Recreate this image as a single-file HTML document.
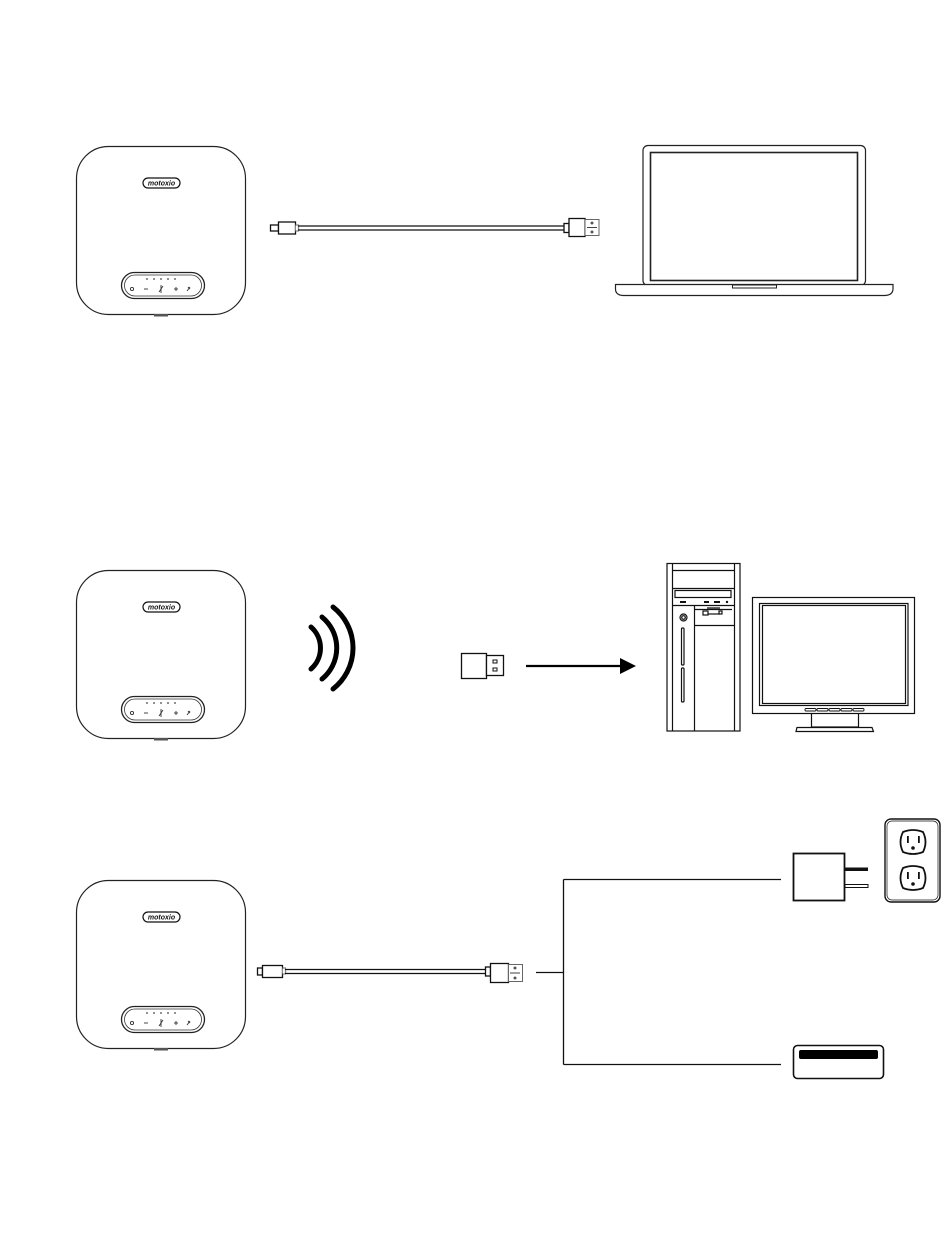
<!DOCTYPE html>
<html><head><meta charset="utf-8"><style>
html,body{margin:0;padding:0;background:#fff;}
svg{display:block;}
</style></head><body>
<svg width="950" height="1238" viewBox="0 0 950 1238" xmlns="http://www.w3.org/2000/svg">
<defs>
<g id="spk">
  <rect x="76.5" y="146.5" width="169" height="168" rx="32" fill="#fff" stroke="#222" stroke-width="1.2"/>
  <rect x="154" y="314" width="14" height="2.5" fill="#555"/>
  <rect x="143" y="178" width="37" height="10" rx="5" fill="#fff" stroke="#111" stroke-width="1.2"/>
  <text x="161.5" y="185.6" font-family="Liberation Sans, sans-serif" font-size="7" font-style="italic" font-weight="bold" text-anchor="middle" fill="#111">motoxio</text>
  <rect x="121.5" y="272.5" width="83" height="26" rx="13" fill="#fff" stroke="#222" stroke-width="1.3"/>
  <rect x="124.5" y="275" width="77" height="21" rx="10.5" fill="none" stroke="#333" stroke-width="0.8"/>
  <g fill="#444"><circle cx="147" cy="279" r="0.9"/><circle cx="154" cy="279" r="0.9"/><circle cx="161" cy="279" r="0.9"/><circle cx="168" cy="279" r="0.9"/><circle cx="175" cy="279" r="0.9"/></g>
  <g stroke="#333" stroke-width="0.9" fill="none">
    <circle cx="132" cy="289" r="1.6"/>
    <line x1="144" y1="289" x2="148" y2="289"/>
    <line x1="161" y1="285" x2="161" y2="293"/><line x1="159" y1="292" x2="163" y2="286"/>
    <line x1="174" y1="289" x2="178" y2="289"/><line x1="176" y1="287" x2="176" y2="291"/>
    <path d="M187 291 l3 -4 M188 287 l2 2"/>
  </g>
</g>
</defs>

<use href="#spk"/>
<use href="#spk" y="424"/>
<use href="#spk" y="734"/>

<!-- cable 1 -->
<g stroke="#111" fill="#fff" stroke-width="1.3">
  <rect x="270.5" y="225" width="8" height="6"/>
  <rect x="278.5" y="222" width="17" height="12"/>
  <path d="M295.5 225 h3 v6 h-3" stroke="#888"/>
  <line x1="298" y1="226" x2="564" y2="226"/>
  <line x1="298" y1="230" x2="564" y2="230"/>
  <rect x="564" y="223.5" width="5" height="9"/>
  <rect x="569" y="218.5" width="16" height="18"/>
  <rect x="585" y="219.5" width="14" height="16" stroke="#666" stroke-width="1"/>
  <circle cx="592" cy="223" r="1" stroke-width="0.8"/><circle cx="592" cy="232" r="1" stroke-width="0.8"/>
  <path d="M587 227.5 h10" stroke-width="0.8"/>
</g>

<!-- laptop -->
<g stroke="#222" fill="#fff">
  <rect x="643" y="145.5" width="222.5" height="140" rx="5" stroke-width="1.2"/>
  <rect x="650.5" y="152.5" width="207" height="128" stroke-width="1.6"/>
  <path d="M615.5 284.5 H893 V289 Q893 295 885 295.5 H623 Q615.5 295 615.5 289 Z" stroke-width="1.2"/>
  <rect x="732.5" y="285" width="44" height="3" stroke-width="1"/>
</g>

<!-- wireless arcs -->
<g stroke="#000" stroke-width="5" fill="none" stroke-linecap="round">
  <path d="M311 627 A28 28 0 0 1 311 669"/>
  <path d="M322 617 A40 40 0 0 1 322 679"/>
  <path d="M333 607 A52 52 0 0 1 333 689"/>
</g>

<!-- dongle -->
<g stroke="#111" fill="#fff" stroke-width="1.3">
  <rect x="461.5" y="653.5" width="25" height="25"/>
  <rect x="486.5" y="655.5" width="17" height="20"/>
  <rect x="493" y="660" width="4" height="3" stroke-width="1"/>
  <rect x="493" y="668" width="4" height="3" stroke-width="1"/>
</g>
<line x1="526" y1="666" x2="622" y2="666" stroke="#000" stroke-width="2.2"/>
<polygon points="620,658 636,666 620,674" fill="#000"/>

<!-- tower -->
<g stroke="#111" fill="#fff" stroke-width="1.2">
  <rect x="667" y="563.5" width="73" height="167.5"/>
  <line x1="672.5" y1="563.5" x2="672.5" y2="731"/>
  <line x1="734.5" y1="563.5" x2="734.5" y2="731"/>
  <line x1="672.5" y1="570.5" x2="734.5" y2="570.5"/>
  <line x1="672.5" y1="588.5" x2="734.5" y2="588.5"/>
  <rect x="675" y="590.5" width="56" height="7"/>
  <line x1="672.5" y1="605.5" x2="734.5" y2="605.5"/>
  <line x1="694.5" y1="605.5" x2="694.5" y2="731"/>
  <line x1="694.5" y1="625.5" x2="734.5" y2="625.5"/>
  <path d="M694.5 609.5 H732 M707 608 H720" />
  <rect x="703" y="611" width="5" height="4"/>
  <rect x="719" y="611" width="3" height="3"/>
  <path d="M708 614 H720"/>
  <circle cx="683.5" cy="617.5" r="3.5"/><circle cx="683.5" cy="617.5" r="1.8"/>
  <rect x="681.5" y="628" width="2.5" height="37" rx="1"/>
  <rect x="681.5" y="668" width="2.5" height="34" rx="1"/>
</g>
<g fill="#111"><rect x="680" y="601" width="6" height="2"/><rect x="704" y="601" width="5" height="2"/><rect x="714" y="601" width="6" height="2"/><circle cx="727" cy="602" r="1.2"/></g>

<!-- monitor -->
<g stroke="#111" fill="#fff" stroke-width="1.2">
  <rect x="811.5" y="713" width="47" height="14"/>
  <path d="M797 727.5 H872 L873.5 731.5 H796 Z"/>
  <rect x="752.5" y="597.5" width="162" height="116"/>
  <rect x="759.5" y="603.5" width="148.5" height="102"/>
  <rect x="762.5" y="605.5" width="143" height="98"/>
  <g stroke-width="0.9"><rect x="805" y="708.5" width="11" height="2.5" rx="1"/><rect x="817" y="708.5" width="11" height="2.5" rx="1"/><rect x="829" y="708.5" width="11" height="2.5" rx="1"/><rect x="841" y="708.5" width="11" height="2.5" rx="1"/><rect x="853" y="708.5" width="11" height="2.5" rx="1"/></g>
</g>

<!-- cable 3 -->
<g stroke="#111" fill="#fff" stroke-width="1.3">
  <rect x="257.5" y="968" width="5" height="7"/>
  <rect x="262.5" y="965.5" width="20" height="12"/>
  <path d="M282.5 968 h3 v6 h-3" stroke="#888"/>
  <line x1="285" y1="969.5" x2="485" y2="969.5"/>
  <line x1="285" y1="973.5" x2="485" y2="973.5"/>
  <rect x="485.5" y="967" width="5" height="9"/>
  <rect x="490.5" y="963.5" width="18" height="19"/>
  <rect x="508.5" y="964.5" width="14" height="17" stroke="#666" stroke-width="1"/>
  <circle cx="515" cy="968" r="1" stroke-width="0.8"/><circle cx="515" cy="978" r="1" stroke-width="0.8"/>
  <path d="M510 973 h10" stroke-width="0.8"/>
</g>

<!-- bracket -->
<g stroke="#111" stroke-width="1.3" fill="none">
  <line x1="536" y1="972.5" x2="563.5" y2="972.5"/>
  <line x1="563.5" y1="879.5" x2="563.5" y2="1064.5"/>
  <line x1="563.5" y1="879.5" x2="781" y2="879.5"/>
  <line x1="563.5" y1="1064.5" x2="781" y2="1064.5"/>
</g>

<!-- charger -->
<g stroke="#111" fill="#fff">
  <rect x="793.5" y="853.5" width="51" height="47" stroke-width="1.8"/>
  <rect x="845" y="867.5" width="23" height="3.5" fill="#111" stroke="none"/>
  <rect x="845" y="884.5" width="23" height="3" stroke-width="1"/>
</g>

<!-- outlet -->
<g stroke="#111" fill="#fff">
  <rect x="885" y="819" width="55" height="83" rx="6" stroke-width="1.4"/>
  <rect x="887" y="821" width="51" height="79" rx="5" stroke-width="0.7"/>
  <path d="M903 832 Q913 828 923 832 Q928 842 923 852 Q913 856 903 852 Q898 842 903 832 Z" stroke-width="1.8"/>
  <path d="M903 868 Q913 864 923 868 Q928 878 923 888 Q913 892 903 888 Q898 878 903 868 Z" stroke-width="1.8"/>
</g>
<g fill="#111">
  <rect x="907" y="836" width="1.8" height="7"/><rect x="918" y="836" width="1.8" height="7"/><circle cx="913" cy="848" r="1.8"/>
  <rect x="907" y="872" width="1.8" height="7"/><rect x="918" y="872" width="1.8" height="7"/><circle cx="913" cy="884" r="1.8"/>
</g>

<!-- power bank -->
<rect x="793.5" y="1045.5" width="90" height="33" rx="4" fill="#fff" stroke="#111" stroke-width="1.6"/>
<rect x="799" y="1050" width="79" height="9" rx="2" fill="#000"/>
</svg>
</body></html>
